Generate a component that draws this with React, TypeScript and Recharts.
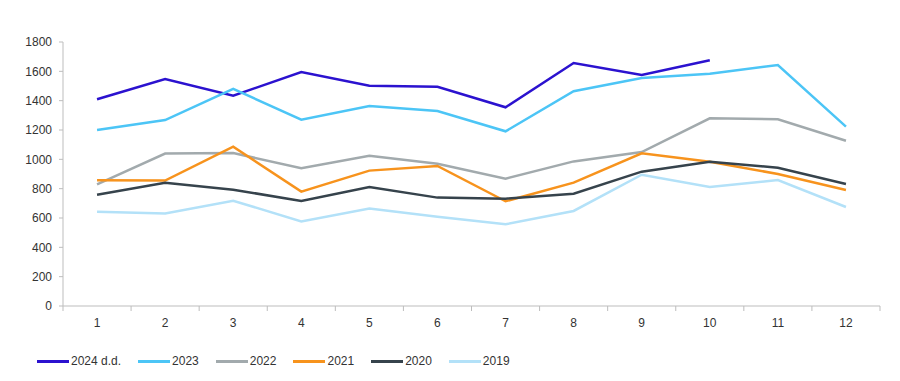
import React from 'react';
import { LineChart, Line, XAxis, YAxis, Legend } from 'recharts';

const months = [1, 2, 3, 4, 5, 6, 7, 8, 9, 10, 11, 12];
const yTicks = [0, 200, 400, 600, 800, 1000, 1200, 1400, 1600, 1800];

const s2024 = [1410, 1548, 1434, 1595, 1502, 1495, 1355, 1657, 1575, 1675];
const s2023 = [1200, 1268, 1480, 1270, 1364, 1330, 1191, 1464, 1555, 1584, 1643, 1223];
const s2022 = [830, 1039, 1043, 939, 1025, 970, 868, 986, 1050, 1280, 1273, 1127];
const s2021 = [857, 855, 1086, 780, 923, 955, 714, 841, 1041, 984, 900, 791];
const s2020 = [759, 841, 793, 716, 811, 739, 732, 766, 916, 984, 943, 832];
const s2019 = [643, 630, 718, 577, 664, 608, 557, 648, 895, 811, 859, 675];

const series = [
  { name: '2024 d.d.', values: s2024, color: '#2b12cf' },
  { name: '2023', values: s2023, color: '#4cc5f6' },
  { name: '2022', values: s2022, color: '#a2aaad' },
  { name: '2021', values: s2021, color: '#f7931d' },
  { name: '2020', values: s2020, color: '#36434c' },
  { name: '2019', values: s2019, color: '#b3e1f8' },
];

const data = months.map((m, i) => {
  const row: any = { month: m };
  series.forEach((s) => {
    row[s.name] = s.values[i] ?? null;
  });
  return row;
});

const W = 900;
const H = 381;
const LEFT = 63;
const RIGHT = 20;
const HALF = (W - LEFT - RIGHT) / 24;
const AXIS = '#bdbdbd';
const FONT = '"Liberation Sans", Arial, sans-serif';

const MonthTick = (props: any) => {
  const { x, y, payload } = props;
  return (
    <g>
      <line x1={x - HALF} x2={x - HALF} y1={y - 12} y2={y - 7} stroke={AXIS} />
      {payload.value === 12 && (
        <line x1={x + HALF} x2={x + HALF} y1={y - 12} y2={y - 7} stroke={AXIS} />
      )}
      <text x={x} y={y} dy="0.71em" textAnchor="middle" fontSize={12} fill="#333" fontFamily={FONT}>
        {payload.value}
      </text>
    </g>
  );
};

const LegendContent = () => (
  <div style={{ display: 'flex', fontFamily: FONT, fontSize: 12, color: '#333' }}>
    {series.map((s) => (
      <div key={s.name} style={{ display: 'flex', alignItems: 'center', marginRight: 17 }}>
        <span style={{ display: 'inline-block', width: 32, height: 3, background: s.color, marginRight: 2 }} />
        <span>{s.name}</span>
      </div>
    ))}
  </div>
);

export default function App() {
  return (
    <div style={{ margin: -8 }}>
      <LineChart width={W} height={H} data={data} margin={{ top: 42, right: RIGHT, bottom: 31, left: 0 }}>
        <XAxis
          dataKey="month"
          type="number"
          domain={[0.5, 12.5]}
          ticks={months}
          interval={0}
          tick={<MonthTick />}
          tickLine={false}
          tickSize={0}
          tickMargin={12}
          axisLine={{ stroke: AXIS }}
        />
        <YAxis
          width={LEFT}
          domain={[0, 1800]}
          ticks={yTicks}
          interval={0}
          tickSize={4}
          tickMargin={7}
          tickLine={{ stroke: AXIS }}
          axisLine={{ stroke: AXIS }}
          tick={{ fontSize: 12, fill: '#333', fontFamily: FONT }}
        />
        <Legend
          content={<LegendContent />}
          wrapperStyle={{ position: 'absolute', left: 37, top: 354, width: 700 }}
        />
        {series.map((s) => (
          <Line
            key={s.name}
            dataKey={s.name}
            stroke={s.color}
            strokeWidth={2.5}
            dot={false}
            activeDot={false}
            connectNulls={false}
            isAnimationActive={false}
          />
        ))}
      </LineChart>
    </div>
  );
}
